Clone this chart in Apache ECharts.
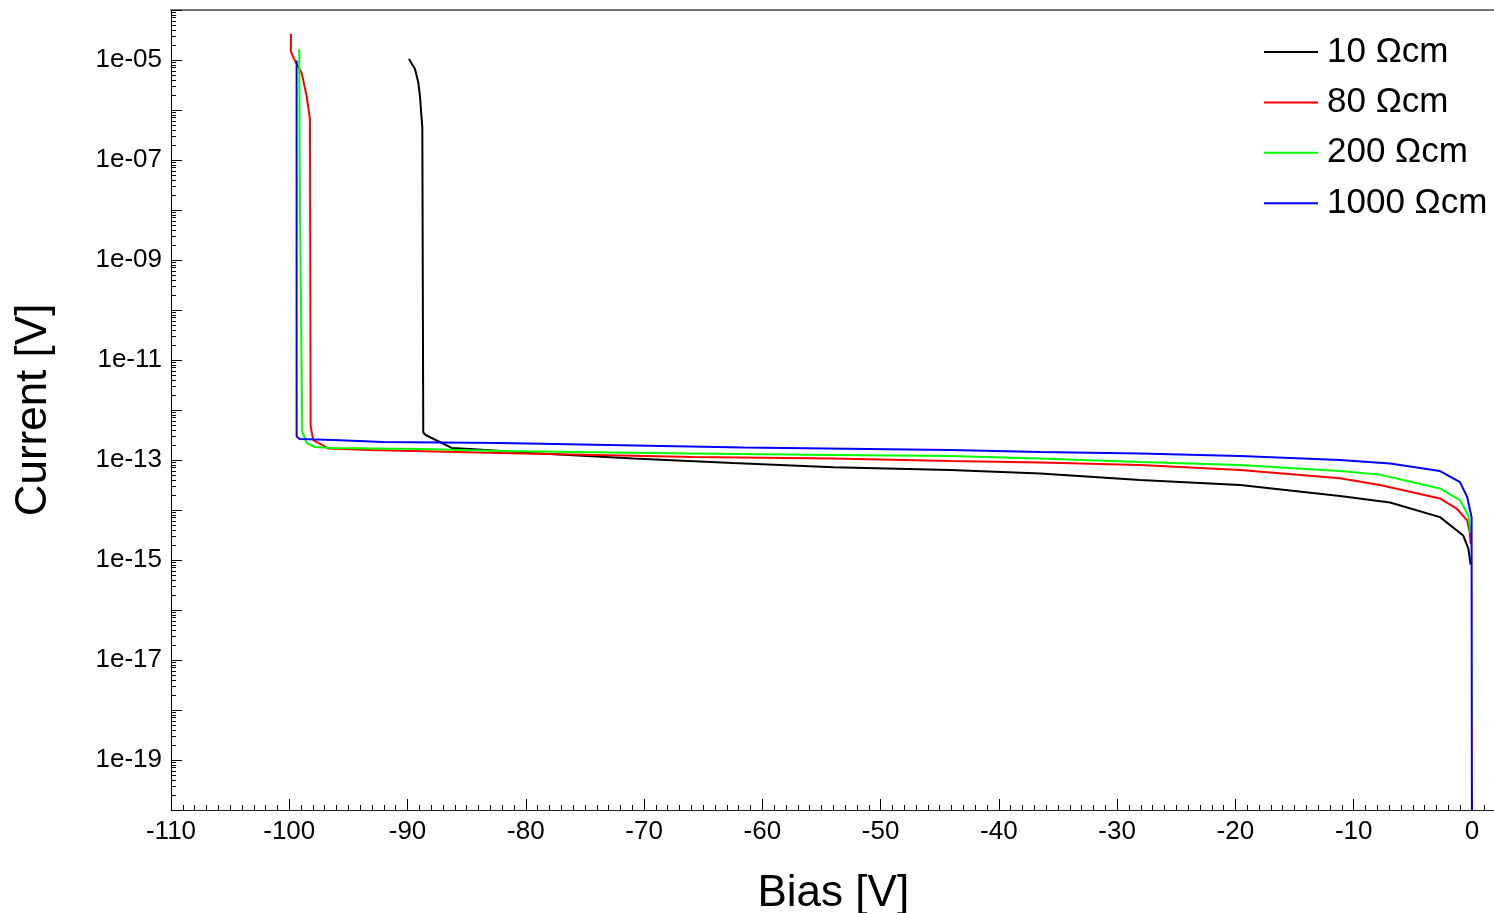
<!DOCTYPE html>
<html>
<head>
<meta charset="utf-8">
<script src="https://cdn.jsdelivr.net/npm/echarts@6/dist/echarts.min.js"></script>
<style>
html,body{margin:0;padding:0;background:#fff;}
#chart{width:1494px;height:913px;}
</style>
</head>
<body>
<div id="chart"></div>
<script>
// ---- data (Bias in V, Current in A) ----
const seriesNames = ['10 Ωcm', '80 Ωcm', '200 Ωcm', '1000 Ωcm'];
const seriesColors = ['#000000', '#ff0000', '#00ff00', '#0000ff'];

const bias10 = [-89.88, -89.37, -89.09, -88.95, -88.75, -88.67, -88.47, -86.27, -84.72, -79.51, -70.9, -62.5, -54.0, -44.1, -36.5, -28.07, -19.6, -11.16, -6.93, -2.7, -0.74, -0.31, -0.11];
const current10 = [1.05e-5, 6.6e-6, 3.55e-6, 1.9e-6, 4.5e-7, 3.55e-13, 3.16e-13, 1.74e-13, 1.66e-13, 1.38e-13, 1.07e-13, 8.7e-14, 7.2e-14, 6.3e-14, 5.4e-14, 4.0e-14, 3.16e-14, 1.9e-14, 1.41e-14, 7.2e-15, 3.1e-15, 1.7e-15, 8.1e-16];

const bias80 = [-99.86, -99.86, -99.53, -98.95, -98.53, -98.25, -98.19, -97.97, -96.70, -93.18, -82.19, -65.8, -54.0, -44.1, -36.5, -28.07, -19.6, -11.16, -7.78, -2.7, -1.3, -0.4, -0.17, -0.11];
const current80 = [3.31e-5, 1.48e-5, 9.8e-6, 5.5e-6, 1.9e-6, 6.6e-7, 4.7e-13, 2.5e-13, 1.7e-13, 1.58e-13, 1.38e-13, 1.15e-13, 1.07e-13, 9.5e-14, 8.9e-14, 7.9e-14, 6.3e-14, 4.3e-14, 3.16e-14, 1.7e-14, 1.07e-14, 6.2e-15, 3.4e-15, 2.1e-15];

const bias200 = [-99.16, -99.10, -98.90, -98.53, -97.83, -96.42, -88.95, -82.19, -66.12, -54.03, -44.14, -36.53, -28.07, -19.62, -11.16, -7.78, -2.71, -1.01, -0.31, -0.17, -0.13];
const current200 = [1.66e-5, 1.6e-8, 3.7e-13, 2.2e-13, 1.82e-13, 1.74e-13, 1.66e-13, 1.51e-13, 1.35e-13, 1.26e-13, 1.2e-13, 1.07e-13, 9.1e-14, 7.9e-14, 6.0e-14, 5.1e-14, 2.7e-14, 1.58e-14, 7.8e-15, 4.6e-15, 3.5e-15];

const bias1000 = [-99.38, -99.38, -99.10, -96.28, -92.05, -82.19, -61.6, -44.1, -36.5, -28.07, -19.6, -11.16, -6.93, -2.7, -1.01, -0.4, -0.03, 0.0];
const current1000 = [9.8e-6, 2.95e-13, 2.63e-13, 2.5e-13, 2.3e-13, 2.2e-13, 1.78e-13, 1.58e-13, 1.45e-13, 1.35e-13, 1.2e-13, 1.0e-13, 8.5e-14, 6.0e-14, 3.6e-14, 1.82e-14, 7.2e-15, 1e-20];

// ---- axis ticks ----
const xMajorTicks = [-110, -100, -90, -80, -70, -60, -50, -40, -30, -20, -10, 0];
const yLabelTicks = [1e-19, 1e-17, 1e-15, 1e-13, 1e-11, 1e-9, 1e-7, 1e-5];
const yDecadeTicks = [1e-20, 1e-19, 1e-18, 1e-17, 1e-16, 1e-15, 1e-14, 1e-13, 1e-12, 1e-11, 1e-10, 1e-9, 1e-8, 1e-7, 1e-6, 1e-5, 1e-4];

const xMinorTicks = [];
for (let v = -110; v <= 1; v++) { if (v % 10 !== 0) xMinorTicks.push(v); }
const yMinorTicks = [];
for (let e = -20; e <= -5; e++) { for (let k = 2; k <= 9; k++) yMinorTicks.push(Number((k + 'e' + e))); }

const zip = (xs, ys) => xs.map((x, i) => [x, ys[i]]);
const allBias = [bias10, bias80, bias200, bias1000];
const allCurrent = [current10, current80, current200, current1000];

const FONT = 'Liberation Sans, Arial, sans-serif';
const grid = { left: 171, top: 10, width: 1324.6, height: 800, containLabel: false, outerBoundsMode: 'none' };

const chart = echarts.init(document.getElementById('chart'), null, { renderer: 'canvas' });
chart.setOption({
  animation: false,
  backgroundColor: '#ffffff',
  grid: grid,
  legend: {
    orient: 'vertical',
    left: 1264,
    top: 32,
    padding: 0,
    itemWidth: 54,
    itemHeight: 2,
    itemGap: 10.4,
    icon: 'rect',
    textStyle: { fontFamily: FONT, fontSize: 35, color: '#000', lineHeight: 40, padding: [0, 0, 0, 4] },
    data: seriesNames
  },
  xAxis: [
    {
      type: 'value', min: -110, max: 2, position: 'bottom',
      name: 'Bias [V]', nameLocation: 'middle', nameGap: 62,
      nameTextStyle: { fontFamily: FONT, fontSize: 44, color: '#000' },
      axisLine: { show: true, onZero: false, lineStyle: { color: '#222', width: 1 } },
      axisTick: { show: true, inside: true, length: 11, customValues: xMajorTicks, lineStyle: { color: '#000', width: 1 } },
      axisLabel: { show: true, customValues: xMajorTicks, fontFamily: FONT, fontSize: 26, color: '#000', margin: 9 },
      splitLine: { show: false }
    },
    {
      type: 'value', min: -110, max: 2, position: 'bottom', offset: 0,
      axisLine: { show: false, onZero: false },
      axisTick: { show: true, inside: true, length: 5, customValues: xMinorTicks, lineStyle: { color: '#000', width: 1 } },
      axisLabel: { show: false },
      splitLine: { show: false }
    },
    {
      type: 'value', min: -110, max: 2, position: 'top',
      axisLine: { show: true, onZero: false, lineStyle: { color: '#777', width: 2 } },
      axisTick: { show: false }, axisLabel: { show: false }, splitLine: { show: false }
    }
  ],
  yAxis: [
    {
      type: 'log', logBase: 10, min: 1e-20, max: 1e-4, position: 'left',
      name: 'Current [V]', nameLocation: 'middle', nameGap: 115,
      nameTextStyle: { fontFamily: FONT, fontSize: 44, color: '#000' },
      axisLine: { show: true, onZero: false, lineStyle: { color: '#000', width: 1 } },
      axisTick: { show: true, inside: true, length: 11, customValues: yDecadeTicks, lineStyle: { color: '#000', width: 1 } },
      axisLabel: {
        show: true, customValues: yLabelTicks, fontFamily: FONT, fontSize: 26, color: '#000', margin: 9,
        formatter: function (v) {
          const e = Math.round(Math.log10(v));
          const a = Math.abs(e);
          return '1e' + (e < 0 ? '-' : '+') + (a < 10 ? '0' + a : '' + a);
        }
      },
      splitLine: { show: false }
    },
    {
      type: 'log', logBase: 10, min: 1e-20, max: 1e-4, position: 'left', offset: 0,
      axisLine: { show: false, onZero: false },
      axisTick: { show: true, inside: true, length: 5, customValues: yMinorTicks, lineStyle: { color: '#000', width: 1 } },
      axisLabel: { show: false },
      splitLine: { show: false }
    }
  ],
  series: seriesNames.map((name, i) => ({
    name: name,
    type: 'line',
    xAxisIndex: 0,
    yAxisIndex: 0,
    data: zip(allBias[i], allCurrent[i]),
    showSymbol: false,
    symbol: 'none',
    color: seriesColors[i],
    lineStyle: { color: seriesColors[i], width: 2 },
    clip: true,
    z: 2 + i
  }))
});
</script>
</body>
</html>
